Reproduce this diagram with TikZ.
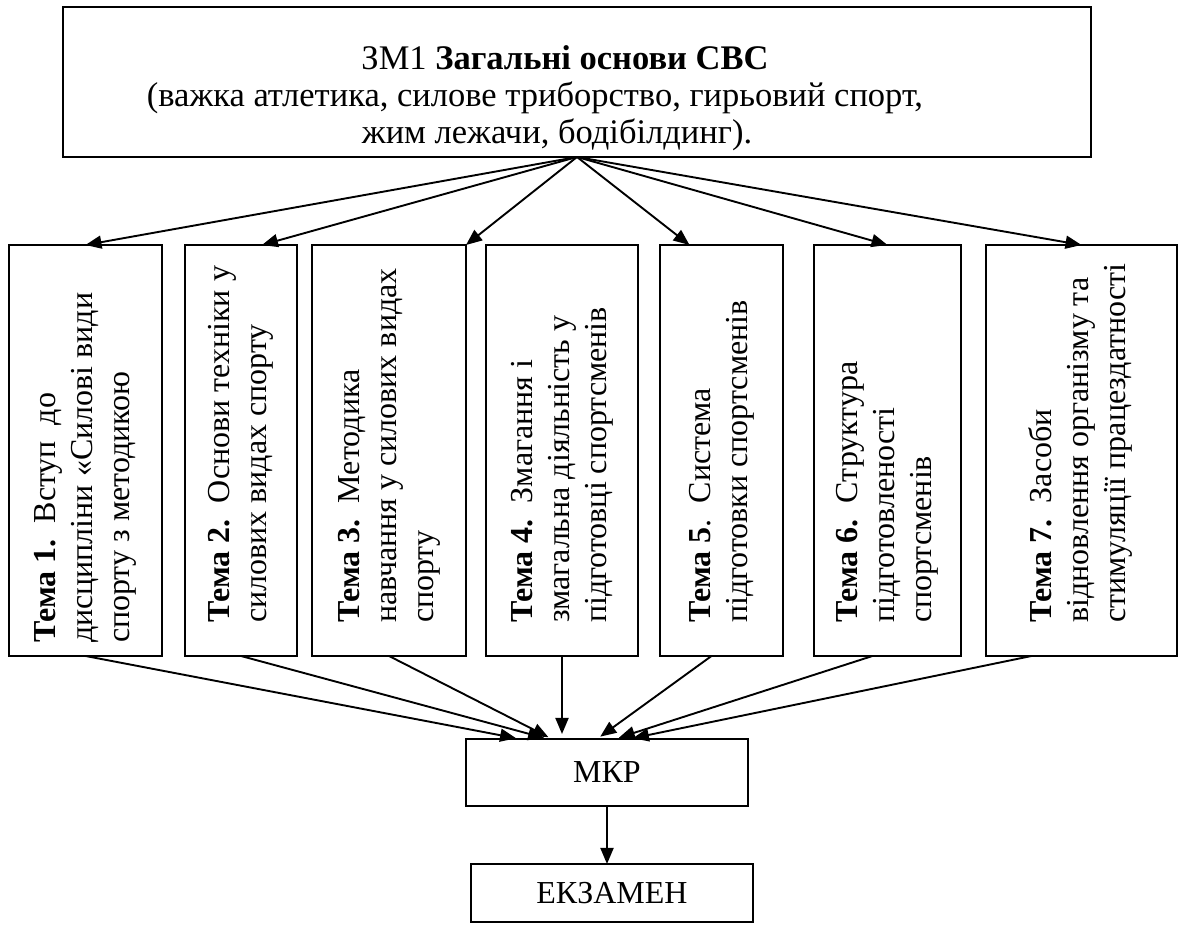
\documentclass[tikz,border=0pt]{standalone}
\usepackage{fontspec}
\setmainfont{Liberation Serif}
\usepackage{graphicx}
\usepackage{tikz}
\usetikzlibrary{arrows.meta,positioning,calc}

% rotated topic text, read from bottom to top
\newcommand{\vtext}[1]{\rotatebox{90}{\makebox[345pt][l]{\begin{tabular}{@{}l@{}}#1\end{tabular}}}}

\begin{document}
\begin{tikzpicture}[
    x=1pt, y=1pt,
    font=\fontsize{32}{37}\selectfont,
    box/.style={rectangle, draw, line width=1.9pt, inner sep=0pt,
                outer sep=0pt, align=center},
    topic/.style={box, minimum height=411pt},
    arr/.style={-{Triangle[length=16pt,width=13pt]}, line width=1.9pt},
]
\useasboundingbox (0,0) rectangle (1179,928);

% Module
\node[box, minimum width=1028pt, minimum height=150pt,
      font=\fontsize{34.5}{37}\selectfont] (zm) at (577,846)
    {\rule{0pt}{56pt}ЗМ1 \textbf{Загальні основи СВС}\makebox[24pt]{}\\
     (важка атлетика, силове триборство, гирьовий спорт,\makebox[84pt]{}\\
     жим лежачи, бодібілдинг).\makebox[40pt]{}};

% Topics
\node[topic, minimum width=153pt] (t1) at (85.5,477.5)
    {\vtext{\hspace*{-20pt}\makebox[250pt][s]{\textbf{\mbox{Тема 1.}} Вступ до}\\
            \hspace*{-20pt}дисципліни «Силові види\\
            \hspace*{-20pt}спорту з методикою}};
\node[topic, minimum width=112pt, right=23pt of t1] (t2)
    {\vtext{\textbf{Тема 2.}\ \ Основи техніки у\\
            силових видах спорту}};
\node[topic, minimum width=154pt, right=15pt of t2] (t3)
    {\vtext{\textbf{Тема 3.}\ \ Методика\\
            навчання у силових видах\\
            спорту}};
\node[topic, minimum width=152pt, right=20pt of t3] (t4)
    {\vtext{\textbf{Тема 4.}\ \ Змагання і\\
            змагальна діяльність у\\
            підготовці спортсменів}};
\node[topic, minimum width=123pt, right=22pt of t4] (t5)
    {\vtext{\textbf{Тема 5}.\ \ Система\\
            підготовки спортсменів}};
\node[topic, minimum width=147pt, right=31pt of t5] (t6)
    {\vtext{\textbf{Тема 6.}\ \ Структура\\
            підготовленості\\
            спортсменів}};
\node[topic, minimum width=191pt, right=25pt of t6] (t7)
    {\vtext{\textbf{Тема 7.}\ \ Засоби\\
            відновлення організму та\\
            стимуляції працездатності}};

% Control work and exam
\node[box, minimum width=282pt, minimum height=67pt] (mkr) at (607,155.5) {МКР};
\node[box, minimum width=282pt, minimum height=58pt, below=58pt of mkr,
      xshift=5pt] (exam) {ЕКЗАМЕН};

% Module to topics
\draw[arr] (zm.south) -- (t1.north);
\draw[arr] (zm.south) -- ($(t2.north)+(21,0)$);
\draw[arr] (zm.south) -- (t3.north east);
\draw[arr] (zm.south) -- ($(t5.north)+(-32,0)$);
\draw[arr] (zm.south) -- (t6.north);
\draw[arr] (zm.south) -- (t7.north);

% Topics to control work
\draw[arr, shorten >=4pt] (t1.south) -- ($(mkr.north)+(-87,0)$);
\draw[arr, shorten >=4pt] (t2.south) -- ($(mkr.north)+(-59,0)$);
\draw[arr, shorten >=4pt] (t3.south) -- ($(mkr.north)+(-55,0)$);
\draw[arr, shorten >=5pt] (t4.south) -- (t4.south |- mkr.north);
\draw[arr, shorten >=4pt] ($(t5.south)+(-10,0)$) -- ($(mkr.north)+(-10,0)$);
\draw[arr, shorten >=4pt] ($(t6.south)+(-15,0)$) -- ($(mkr.north)+(8,0)$);
\draw[arr, shorten >=4pt] ($(t7.south)+(-50,0)$) -- ($(mkr.north)+(22,0)$);

% Control work to exam
\draw[arr] (mkr.south) -- (mkr.south |- exam.north);

\end{tikzpicture}
\end{document}
